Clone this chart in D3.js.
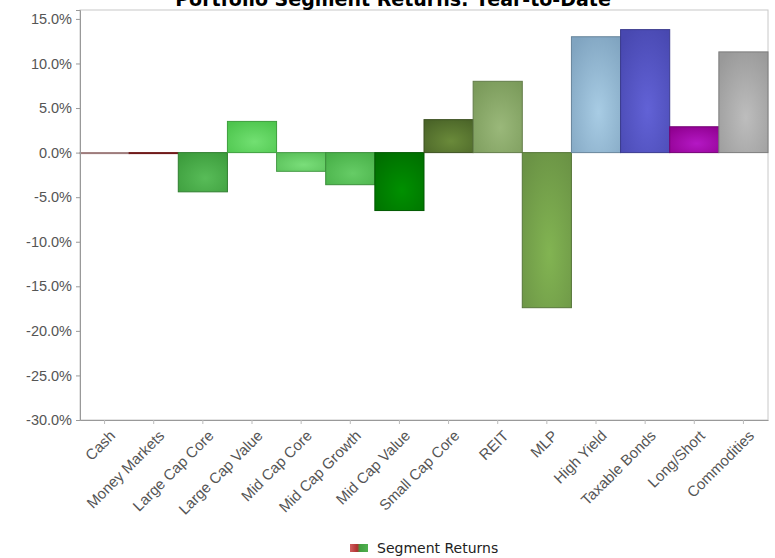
<!DOCTYPE html>
<html>
<head>
<meta charset="utf-8">
<script src="https://cdn.jsdelivr.net/npm/d3@7/dist/d3.min.js"></script>
<style>
  body { margin: 0; background: #fff; }
  svg { display: block; font-family: "DejaVu Sans", Verdana, sans-serif; }
  .tick text { fill: #555; }
</style>
</head>
<body>
<svg id="chart1" width="775" height="558"></svg>
<script>
// chart data
let categories = ["Cash", "Money Markets", "Large Cap Core", "Large Cap Value", "Mid Cap Core",
  "Mid Cap Growth", "Mid Cap Value", "Small Cap Core", "REIT", "MLP", "High Yield",
  "Taxable Bonds", "Long/Short", "Commodities"];
let returns = [-0.1, 0.0, -4.4, 3.5, -2.1, -3.6, -6.5, 3.7, 8.0, -17.4, 13.0, 13.8, 2.9, 11.3];
let yTicks = [15, 10, 5, 0, -5, -10, -15, -20, -25, -30];
let baseColors = ["#c49a9a", "#8b2020", "#3c9c3c", "#4cc44c", "#58bf58", "#48b048", "#006e00",
  "#4a6428", "#7a9a5a", "#6a9245", "#80a4c0", "#4848b0", "#900090", "#999999"];
let lightColors = ["#d8b8b8", "#a03030", "#58bc58", "#72e072", "#7ade7a", "#66cc66", "#009000",
  "#6a8a3a", "#9ab87a", "#82b452", "#a8cce4", "#6262d6", "#b418c4", "#bdbdbd"];

let margin = { left: 80, right: 7, top: 10, bottom: 138 };
let W = 775, H = 558;

let svg = d3.select("#chart1");

let x = d3.scaleBand()
  .domain(categories)
  .range([margin.left, W - margin.right])
  .padding(0);
let y = d3.scaleLinear()
  .domain([-30, 16])
  .range([H - margin.bottom, margin.top]);

// gradients for the bars
let defs = svg.append("defs");
categories.forEach((c, i) => {
  let g = defs.append("radialGradient")
    .attr("id", "grad" + i)
    .attr("cx", "55%").attr("cy", "65%").attr("r", "75%");
  g.append("stop").attr("offset", "0%").attr("stop-color", lightColors[i]);
  g.append("stop").attr("offset", "100%").attr("stop-color", baseColors[i]);
});
let lg = defs.append("linearGradient").attr("id", "legendGrad");
lg.append("stop").attr("offset", "0%").attr("stop-color", "#d06060");
lg.append("stop").attr("offset", "40%").attr("stop-color", "#b03030");
lg.append("stop").attr("offset", "55%").attr("stop-color", "#40a040");
lg.append("stop").attr("offset", "100%").attr("stop-color", "#50b050");

// plot frame
svg.append("rect")
  .attr("x", margin.left)
  .attr("y", margin.top)
  .attr("width", W - margin.right - margin.left)
  .attr("height", H - margin.bottom - margin.top)
  .attr("fill", "none")
  .attr("stroke", "#c8c8c8");

// bars
svg.append("g")
  .selectAll("rect")
  .data(returns)
  .enter()
  .append("rect")
    .attr("x", (d, i) => x(categories[i]))
    .attr("width", x.bandwidth())
    .attr("y", (d) => y(Math.max(0, d)))
    .attr("height", (d) => Math.max(1, Math.abs(y(d) - y(0))))
    .attr("fill", (d, i) => "url(#grad" + i + ")")
    .attr("stroke", (d, i) => d3.color(baseColors[i]).darker(0.6))
    .attr("stroke-width", 1);

// y axis
let yAxis = d3.axisLeft(y)
  .tickValues(yTicks)
  .tickFormat((d) => d.toFixed(1) + "%")
  .tickSize(4)
  .tickPadding(4);
let yG = svg.append("g")
  .attr("transform", "translate(" + margin.left + ",0)")
  .call(yAxis);
yG.select(".domain").attr("stroke", "#999");
yG.selectAll(".tick line").attr("stroke", "#999");
yG.selectAll(".tick text").attr("font-size", 14.5);

// x axis
let xAxis = d3.axisBottom(x).tickSize(4).tickSizeOuter(0);
let xG = svg.append("g")
  .attr("transform", "translate(0," + (H - margin.bottom) + ")")
  .call(xAxis);
xG.select(".domain").attr("stroke", "#999");
xG.selectAll(".tick line").attr("stroke", "#bbb");
xG.selectAll(".tick text")
  .attr("font-size", 15)
  .attr("text-anchor", "end")
  .attr("transform", "translate(8,13) rotate(-45)")
  .attr("dy", "0.35em")
  .attr("y", 0)
  .attr("x", 0);

// title (top is clipped by the frame, as in the original)
svg.append("text")
  .attr("x", 393)
  .attr("y", 6)
  .attr("text-anchor", "middle")
  .attr("font-weight", "bold")
  .attr("font-size", 19)
  .text("Portfolio Segment Returns: Year-to-Date");

// legend
svg.append("rect")
  .attr("x", 350).attr("y", 544)
  .attr("width", 18).attr("height", 8)
  .attr("fill", "url(#legendGrad)");
svg.append("text")
  .attr("x", 377).attr("y", 553)
  .attr("font-size", 14)
  .attr("fill", "#222")
  .text("Segment Returns");
</script>
</body>
</html>
